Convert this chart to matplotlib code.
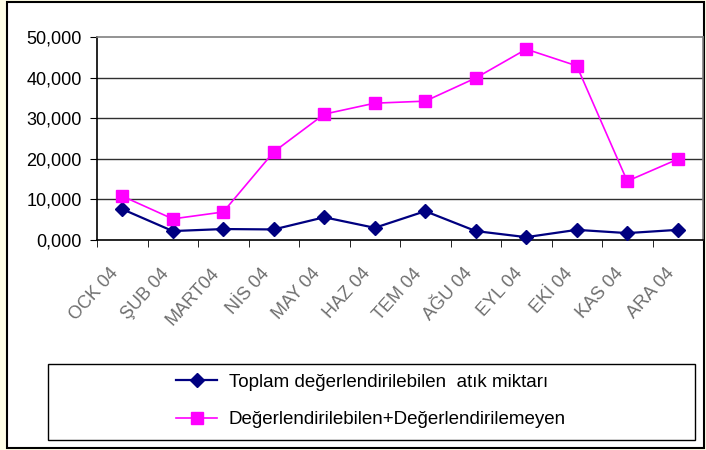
import matplotlib.pyplot as plt
from matplotlib.patches import Rectangle
from matplotlib.ticker import FuncFormatter, FixedLocator
from matplotlib.transforms import ScaledTranslation
import numpy as np

plt.rcParams['font.family'] = ['Liberation Sans', 'DejaVu Sans']

# aylar ve değerler (bin)
months = ["OCK 04", "ŞUB 04", "MART04", "NİS 04", "MAY 04", "HAZ 04",
          "TEM 04", "AĞU 04", "EYL 04", "EKİ 04", "KAS 04", "ARA 04"]
toplam = [7.6, 2.2, 2.7, 2.6, 5.6, 3.0, 7.1, 2.2, 0.7, 2.5, 1.7, 2.5]
toplam_hepsi = [10.8, 5.2, 6.9, 21.7, 31.0, 33.7, 34.2, 39.9, 47.0, 42.9, 14.5, 19.9]
yticks = [0, 10, 20, 30, 40, 50]

fig = plt.figure(figsize=(7.06, 4.5), dpi=100)
fig.patch.set_facecolor('#FFFEE6')
# beyaz çerçeve
fig.patches.append(Rectangle((7 / 706, 2 / 450), 697 / 706, 446 / 450,
                             transform=fig.transFigure, facecolor='white',
                             edgecolor='black', linewidth=1.5, zorder=-10))

ax = fig.add_axes([97 / 706, 1 - 240 / 450, 606 / 706, 203 / 450])
ax.set_facecolor('white')
x = np.arange(len(months))
ax.plot(x, toplam, color='#000080', marker='D', markersize=7, linewidth=1.6,
        label='Toplam değerlendirilebilen  atık miktarı', zorder=3, clip_on=False)
ax.plot(x, toplam_hepsi, color='#FF00FF', marker='s', markersize=8, linewidth=1.2,
        label='Değerlendirilebilen+Değerlendirilemeyen', zorder=3, clip_on=False)

ax.set_xlim(-0.5, len(months) - 0.5)
ax.set_ylim(0, 50)
ax.set_yticks(yticks)
ax.yaxis.set_major_formatter(FuncFormatter(lambda v, p: f"{v:.3f}".replace('.', ',')))
ax.tick_params(axis='y', labelsize=13, length=5, direction='out', color='black', pad=6)
for v in yticks[1:-1]:
    ax.axhline(v, color='#303030', linewidth=1.0, zorder=1)

# x etiketleri (eğik, gri)
ax.set_xticks(x)
ax.set_xticklabels([])
ax.tick_params(axis='x', length=0)
shift = ScaledTranslation(-13 / 100, -25 / 100, fig.dpi_scale_trans)
for i, m in enumerate(months):
    ax.text(i, 0, m, transform=ax.get_xaxis_transform() + shift,
            rotation=48, ha='right', va='top', rotation_mode='anchor',
            color='#6E6E6E', fontsize=13)
ax.xaxis.set_minor_locator(FixedLocator(np.arange(-0.5, len(months), 1.0)))
ax.tick_params(axis='x', which='minor', length=5, color='black')

ax.spines['left'].set_color('black')
ax.spines['bottom'].set_color('black')
ax.spines['top'].set_color('#808080')
ax.spines['right'].set_color('#808080')
for s in ax.spines.values():
    s.set_linewidth(1.2)

# legend kutusu
fig.patches.append(Rectangle((48 / 706, 1 - 440 / 450), 647 / 706, 76 / 450,
                             transform=fig.transFigure, facecolor='white',
                             edgecolor='black', linewidth=1.0, zorder=-5))
fig.legend(loc='center', bbox_to_anchor=(371 / 706, 1 - 401 / 450), frameon=False,
           fontsize=13.5, handlelength=2.2, labelspacing=1.1, handletextpad=0.6)

plt.savefig('out.png', dpi=100, facecolor=fig.get_facecolor())
